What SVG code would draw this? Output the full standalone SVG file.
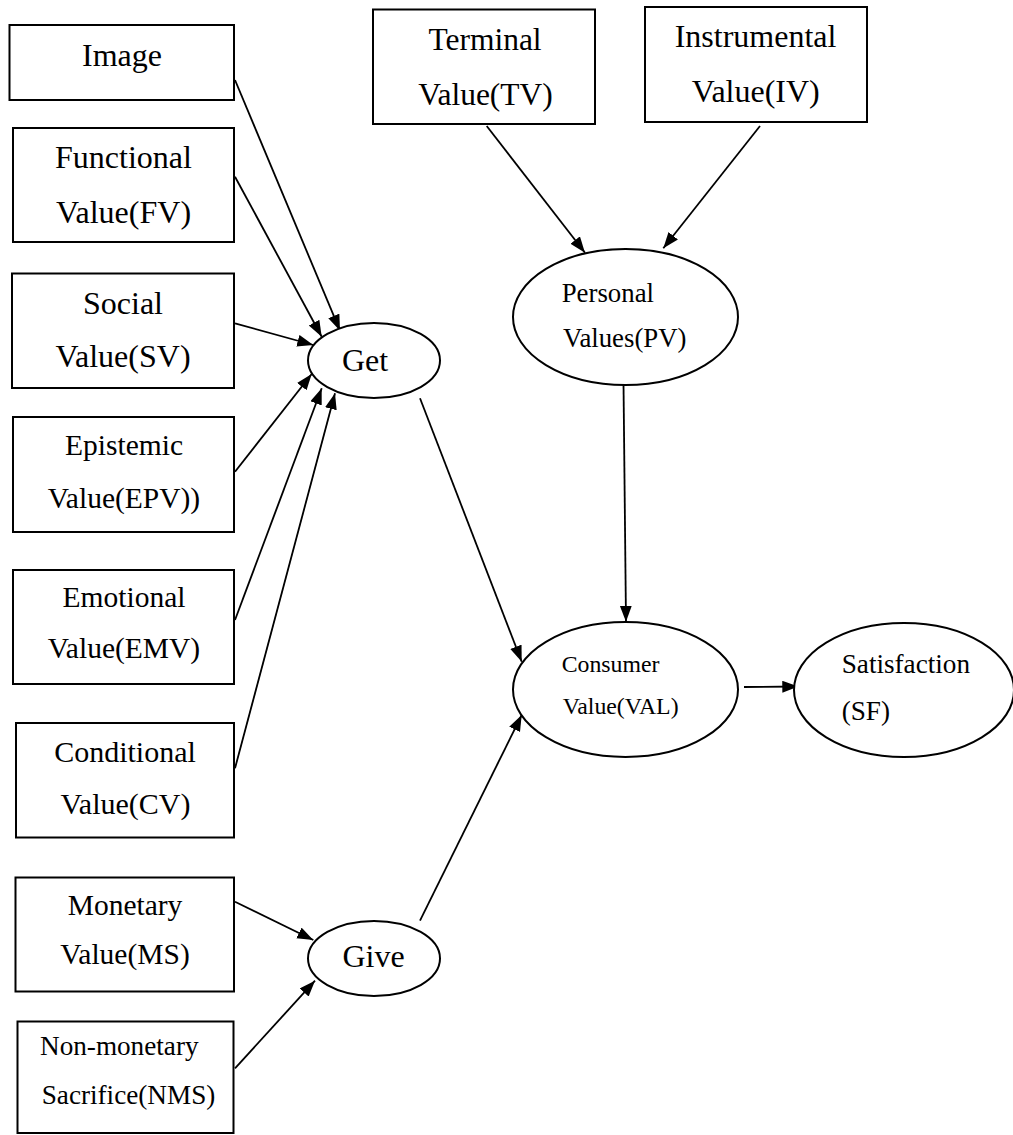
<svg xmlns="http://www.w3.org/2000/svg" width="1013" height="1135" viewBox="0 0 1013 1135">
<style>
.box{fill:#fff;stroke:#000;stroke-width:2}
.ell{fill:#fff;stroke:#000;stroke-width:2}
.t{font-family:"Liberation Serif","Times New Roman",serif;fill:#000}
.m{text-anchor:middle}
.edge{stroke:#000;stroke-width:1.8;fill:none;marker-end:url(#arr)}
</style>
<defs>
<marker id="arr" markerUnits="userSpaceOnUse" markerWidth="17" markerHeight="13" refX="16" refY="6" orient="auto">
<path d="M0,0 L16,6 L0,12 z" fill="#000"/>
</marker>
</defs>
<rect width="1013" height="1135" fill="#fff"/>
<g id="connectors">
<line class="edge" x1="235" y1="80" x2="340" y2="330.7"/>
<line class="edge" x1="235" y1="176.7" x2="321.7" y2="336.7"/>
<line class="edge" x1="235" y1="323.3" x2="313.3" y2="345"/>
<line class="edge" x1="235" y1="471.7" x2="311.7" y2="374"/>
<line class="edge" x1="235" y1="620" x2="321.7" y2="388.3"/>
<line class="edge" x1="235" y1="768.3" x2="335" y2="393.3"/>
<line class="edge" x1="420" y1="398.3" x2="521.7" y2="661.7"/>
<line class="edge" x1="420" y1="920.7" x2="521.7" y2="715"/>
<line class="edge" x1="623.5" y1="383" x2="626" y2="621.7"/>
<line class="edge" x1="744" y1="687" x2="798.3" y2="686.5"/>
<line class="edge" x1="486.7" y1="126" x2="585" y2="252.7"/>
<line class="edge" x1="760" y1="126" x2="663.3" y2="248.3"/>
<line class="edge" x1="235" y1="901.7" x2="313.3" y2="940"/>
<line class="edge" x1="235" y1="1068.3" x2="315" y2="980.7"/>
</g>
<g id="image">
<rect class="box" x="9.5" y="25" width="224.5" height="75"/>
<text class="t m" x="122" y="66" font-size="32">Image</text>
</g>
<g id="functional">
<rect class="box" x="13" y="128" width="221" height="114"/>
<text class="t m" x="123.5" y="168" font-size="32">Functional</text>
<text class="t m" x="123.5" y="223" font-size="32">Value(FV)</text>
</g>
<g id="social">
<rect class="box" x="12" y="273.5" width="222" height="114.5"/>
<text class="t m" x="123" y="314" font-size="32">Social</text>
<text class="t m" x="123" y="367" font-size="32">Value(SV)</text>
</g>
<g id="epistemic">
<rect class="box" x="13" y="417" width="221" height="115"/>
<text class="t m" x="124" y="455" font-size="29.5">Epistemic</text>
<text class="t m" x="124" y="508" font-size="29.5">Value(EPV))</text>
</g>
<g id="emotional">
<rect class="box" x="13" y="570" width="221" height="114"/>
<text class="t m" x="124" y="607" font-size="29.5">Emotional</text>
<text class="t m" x="124" y="658" font-size="29.5">Value(EMV)</text>
</g>
<g id="conditional">
<rect class="box" x="16" y="723" width="218" height="114.5"/>
<text class="t m" x="125" y="761.5" font-size="30">Conditional</text>
<text class="t m" x="125.5" y="813.5" font-size="30">Value(CV)</text>
</g>
<g id="monetary">
<rect class="box" x="15.5" y="877.5" width="218.5" height="114"/>
<text class="t m" x="125" y="915" font-size="29.5">Monetary</text>
<text class="t m" x="125" y="963.5" font-size="29.5">Value(MS)</text>
</g>
<g id="nonmonetary">
<rect class="box" x="17.5" y="1021.5" width="216" height="111.5"/>
<text class="t" x="40" y="1055" font-size="27.2">Non-monetary</text>
<text class="t" x="41.7" y="1103.5" font-size="27.2">Sacrifice(NMS)</text>
</g>
<g id="terminal">
<rect class="box" x="373" y="9.5" width="222" height="114.5"/>
<text class="t m" x="485" y="50" font-size="31.5">Terminal</text>
<text class="t m" x="485.5" y="105" font-size="31.5">Value(TV)</text>
</g>
<g id="instrumental">
<rect class="box" x="645" y="7" width="222" height="115"/>
<text class="t m" x="755.5" y="46.5" font-size="32">Instrumental</text>
<text class="t m" x="755.8" y="101.5" font-size="32">Value(IV)</text>
</g>
<g id="get">
<ellipse class="ell" cx="374" cy="360.5" rx="66" ry="37.5"/>
<text class="t m" x="365" y="371" font-size="32">Get</text>
</g>
<g id="give">
<ellipse class="ell" cx="374" cy="958.5" rx="66" ry="37.5"/>
<text class="t m" x="373.5" y="967" font-size="32">Give</text>
</g>
<g id="personal">
<ellipse class="ell" cx="625.5" cy="317" rx="112.5" ry="68"/>
<text class="t" x="561.7" y="301.5" font-size="26.8">Personal</text>
<text class="t" x="563" y="346.5" font-size="26.8">Values(PV)</text>
</g>
<g id="consumer">
<ellipse class="ell" cx="625.5" cy="689.5" rx="112.5" ry="67.5"/>
<text class="t" x="561.7" y="672" font-size="23.8">Consumer</text>
<text class="t" x="562.7" y="713.5" font-size="23.8">Value(VAL)</text>
</g>
<g id="satisfaction">
<ellipse class="ell" cx="904" cy="690" rx="110" ry="67"/>
<text class="t" x="841.7" y="673" font-size="27.2">Satisfaction</text>
<text class="t" x="841.7" y="719.5" font-size="27.2">(SF)</text>
</g>
</svg>
